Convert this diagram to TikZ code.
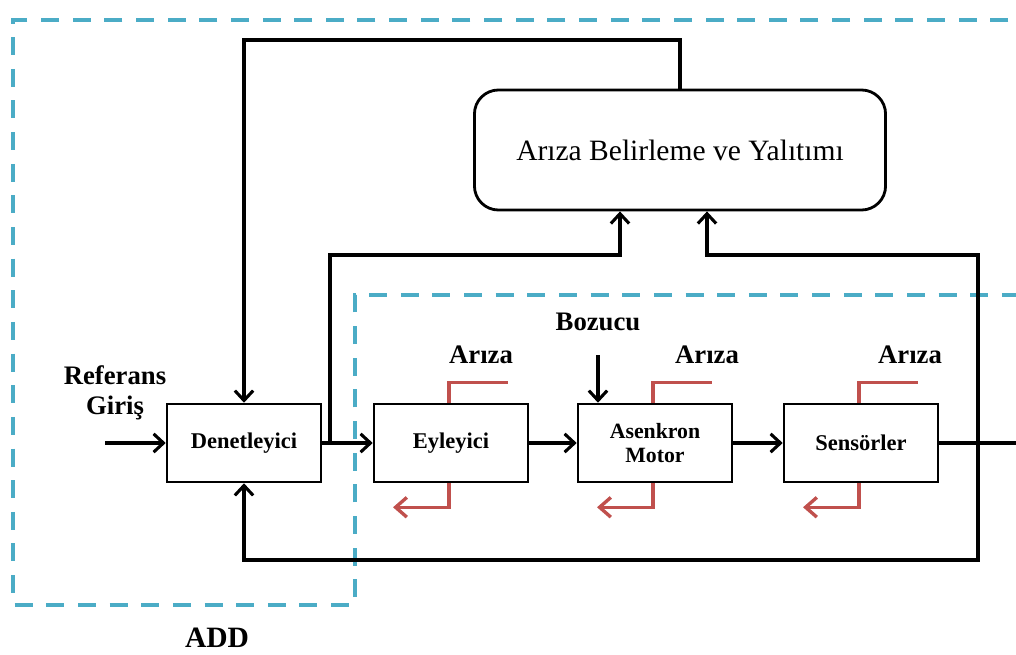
\documentclass[tikz,border=0pt]{standalone}
\usepackage{fontspec}
\setmainfont{Liberation Serif}
\usetikzlibrary{arrows.meta}
\definecolor{addcolor}{HTML}{4BACC6}
\definecolor{faultcolor}{HTML}{C0504D}
\newcommand{\fs}[1]{\fontsize{#1}{#1}\selectfont}

\begin{document}
\begin{tikzpicture}[x = 0.025cm, y = -0.025cm,
	block/.style = {draw, line width = 1.8pt, minimum width = 3.85cm, minimum height = 1.95cm, align = center, font = \bfseries\fontsize{16}{18}\selectfont},
	lbl/.style = {font = \bfseries\fs{19}, align = center, inner sep = 0pt},
	sig/.style = {line width = 2.2pt, -{Straight Barb[length = 7pt, width = 13pt]}},
	wire/.style = {line width = 2.2pt},
	fault/.style = {faultcolor, line width = 2.4pt}]
	\useasboundingbox (0, 0) rectangle (1016, 655);
	\draw[addcolor, line width = 2.8pt, dash pattern = on 12.8pt off 9.7pt] (1018, 295) -- (1018, 20) -- (13, 20) -- (13, 605) -- (355, 605) -- (355, 295) -- (1016, 295);
	\node[lbl, font = \bfseries\fs{21}] (add) at (217, 638) {ADD};

	\node[block] (den) at (244, 443) {Denetleyici};
	\node[block] (eyl) at (451, 443) {Eyleyici};
	\node[block, font = \bfseries\fontsize{15.5}{17}\selectfont] (mot) at (655, 443) {Asenkron\\Motor};
	\node[block] (sen) at (861, 443) {Sensörler};
	\node[draw, line width = 2pt, rounded corners = 0.6cm, minimum width = 10.275cm, minimum height = 3cm, font = \fs{21}] (fdi) at (680, 150) {Arıza Belirleme ve Yalıtımı};

	\node[lbl] (ref) at (115, 393) {Referans\\[2pt]Giriş};
	\node[lbl] (boz) at (598, 322) {Bozucu};

	\coordinate (in) at (105, 443);
	\coordinate (split) at (330, 443);
	\coordinate (tap) at (978, 443);
	\coordinate (out) at (1016, 443);
	\coordinate (fa) at (620, 255);
	\coordinate (fb) at (707, 255);
	\coordinate (fc) at (244, 560);
	\coordinate (fd) at (244, 40);
	\coordinate (bz) at (598, 355);

	\draw[sig] (in) -- (den);
	\draw[sig] (den) -- (eyl);
	\draw[sig] (eyl) -- (mot);
	\draw[sig] (mot) -- (sen);
	\draw[wire] (sen) -- (out);
	\draw[sig] (split) |- (fa) -- (fa |- fdi.south);
	\draw[sig] (tap) |- (fb) -- (fb |- fdi.south);
	\draw[sig] (tap) |- (fc) -- (den);
	\draw[sig] (fdi.north) |- (fd) -- (den);
	\draw[sig] (bz) -- (bz |- mot.north);

	\foreach \b/\dx in {eyl/30, mot/52, sen/49}
	{
		\draw[fault] ([xshift = -0.05cm]\b.north) -- ++(0, -20) -- ++(59, 0);
		\draw[fault, -{Straight Barb[length = 8pt, width = 14pt]}] ([xshift = -0.05cm]\b.south) -- ++(0, 24) -- ++(-56, 0);
		\node[lbl] (\b-f) at ([shift = {(\dx, -48)}]\b.north) {Arıza};
	}
\end{tikzpicture}
\end{document}
